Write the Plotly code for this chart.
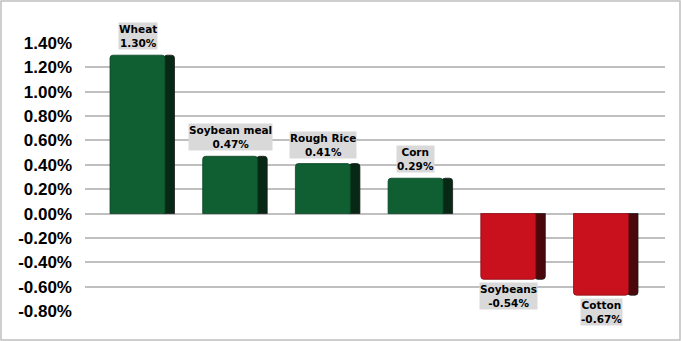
import plotly.graph_objects as go

categories = ["Wheat", "Soybean meal", "Rough Rice", "Corn", "Soybeans", "Cotton"]
values = [1.30, 0.47, 0.41, 0.29, -0.54, -0.67]
tick_vals = [1.4, 1.2, 1.0, 0.8, 0.6, 0.4, 0.2, 0.0, -0.2, -0.4, -0.6, -0.8]
tick_text = ["1.40%", "1.20%", "1.00%", "0.80%", "0.60%", "0.40%", "0.20%", "0.00%",
             "-0.20%", "-0.40%", "-0.60%", "-0.80%"]

front_colors = ["#0F5F33" if v >= 0 else "#C8111D" for v in values]
side_colors = ["#062814" if v >= 0 else "#4A080C" for v in values]
edge_colors = ["#0A4424" if v >= 0 else "#8E0C15" for v in values]

W, H = 681, 341
ml, mr, mt, mb = 85, 16, 43, 30
pw, ph = W - ml - mr, H - mt - mb
step = 92.7
xr0 = -(137.5 - ml) / step
xr1 = xr0 + pw / step
front_w = 55 / step
side_off = 27.5 / step
side_w = 10.5 / step

xs = list(range(len(categories)))

fig = go.Figure()
fig.add_trace(go.Bar(
    x=xs, y=values, width=[side_w] * len(xs), offset=[side_off - 1 / step] * len(xs),
    marker=dict(color=side_colors, line=dict(width=0.8, color="#1a1a1a")),
    hoverinfo="skip", showlegend=False,
))
fig.add_trace(go.Bar(
    x=xs, y=values, width=[front_w] * len(xs), offset=[-front_w / 2] * len(xs),
    marker=dict(color=front_colors, line=dict(width=0.8, color=edge_colors)),
    hoverinfo="skip", showlegend=False,
))

for i, (c, v) in enumerate(zip(categories, values)):
    fig.add_annotation(
        x=i, y=v, xref="x", yref="y",
        text=f"<b>{c}</b><br><b>{v:.2f}%</b>",
        showarrow=False,
        yanchor="bottom" if v >= 0 else "top",
        yshift=5 if v >= 0 else -3,
        bgcolor="#D9D9D9", borderpad=0,
        font=dict(family="DejaVu Sans", size=10.5, color="#000000"),
        align="center",
    )

fig.add_shape(
    type="rect", xref="paper", yref="paper",
    x0=(1 - ml) / pw, x1=(680 - ml) / pw,
    y0=(H - mb - 340) / ph, y1=(H - mb - 1) / ph,
    line=dict(color="#BFBFBF", width=1.5), fillcolor="rgba(0,0,0,0)", layer="below",
)

fig.update_layout(
    width=W, height=H,
    margin=dict(l=ml, r=mr, t=mt, b=mb),
    paper_bgcolor="#FFFFFF", plot_bgcolor="#FFFFFF",
    barmode="overlay", barcornerradius=3,
    xaxis=dict(range=[xr0, xr1], showticklabels=False, showgrid=False,
               zeroline=False, showline=False, fixedrange=True),
    yaxis=dict(range=[-0.8, 1.4], tickvals=tick_vals, ticktext=tick_text,
               tickfont=dict(family="Liberation Sans", size=17, color="#000000", weight="bold"),
               showgrid=True, gridcolor="#BFBFBF", gridwidth=1.5,
               zeroline=True, zerolinecolor="#BFBFBF", zerolinewidth=1.5,
               showline=False, ticks="", ticklabelstandoff=12, fixedrange=True),
)

fig.write_html("out.html")
